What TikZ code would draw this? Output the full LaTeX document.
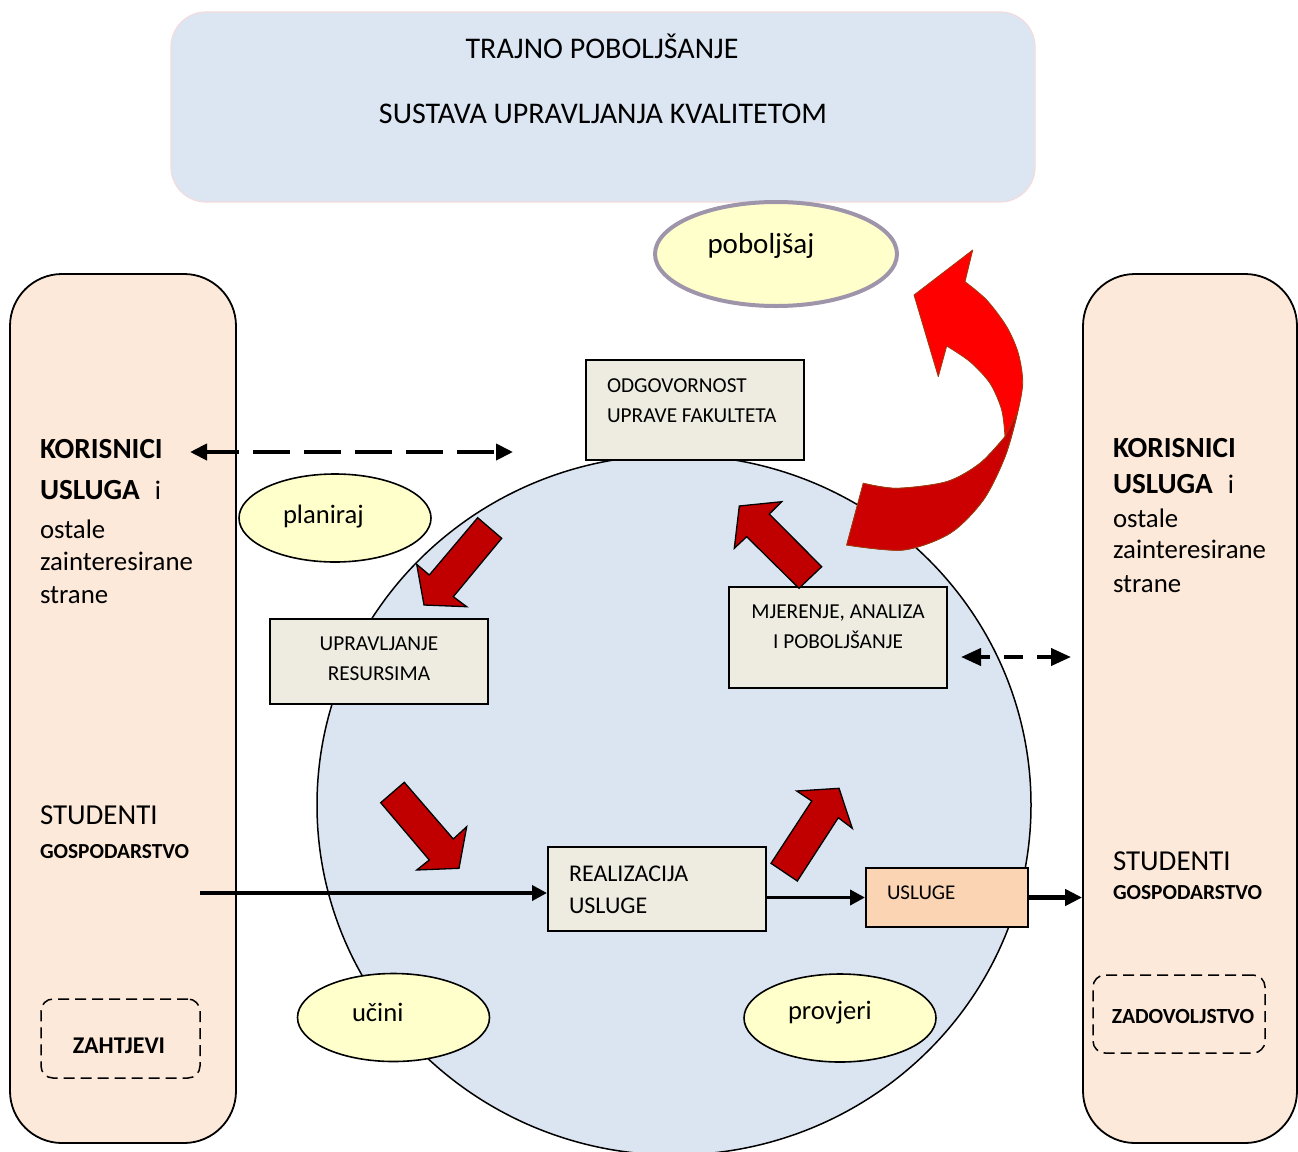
\documentclass[tikz,border=0pt]{standalone}
\usepackage{fontspec}
\setmainfont{Carlito}
\usetikzlibrary{arrows.meta,shapes.geometric}
\definecolor{topfill}{HTML}{DCE6F2}
\definecolor{topline}{HTML}{F2DCDB}
\definecolor{circfill}{HTML}{DBE5F1}
\definecolor{sidefill}{HTML}{FDE9D9}
\definecolor{boxfill}{HTML}{EEECE1}
\definecolor{uslfill}{HTML}{FBD4B4}
\definecolor{ellfill}{HTML}{FFFFCC}
\definecolor{pobline}{HTML}{9F95AA}
\definecolor{darkred}{HTML}{C00000}
\definecolor{brightred}{HTML}{FF0000}
\definecolor{midred}{HTML}{CC0000}
\definecolor{redline}{HTML}{9C3C10}
\newcommand\szTitle{\fontsize{30pt}{34pt}\selectfont}
\newcommand\szBody{\fontsize{26.8pt}{32pt}\selectfont}
\newcommand\szHead{\fontsize{29.2pt}{34pt}\selectfont}
\newcommand\szStud{\fontsize{28.9pt}{34pt}\selectfont}
\newcommand\szGosp{\fontsize{21.4pt}{25pt}\selectfont}
\newcommand\szBox{\fontsize{21.3pt}{25pt}\selectfont}
\newcommand\szReal{\fontsize{24pt}{28pt}\selectfont}
\newcommand\szEll{\fontsize{26.6pt}{32pt}\selectfont}
\begin{document}
\begin{tikzpicture}[x=1pt,y=-1pt,
  txt/.style={anchor=base west, inner sep=0pt, outer sep=0pt},
  ctxt/.style={anchor=base, inner sep=0pt, outer sep=0pt},
  sidebox/.style={draw=black, line width=1.8pt, fill=sidefill, rounded corners=52pt, inner sep=0pt},
  procbox/.style={draw=black, line width=2pt, fill=boxfill, inner sep=0pt},
  stage/.style={ellipse, draw=black, line width=1.6pt, fill=ellfill, inner sep=0pt, minimum width=192pt, minimum height=88pt},
  dashbox/.style={draw=black, line width=1.5pt, dash pattern=on 11pt off 6pt, rounded corners=12pt, inner sep=0pt},
  redarr/.style={fill=darkred, draw=black, line width=1.3pt, line join=miter},
  dasharr/.style={line width=4pt, {Triangle[length=17pt,width=16pt]}-{Triangle[length=17pt,width=16pt]}},
  solidarr/.style={line width=3.7pt, -{Triangle[length=15pt,width=15pt]}},
]
\useasboundingbox (0,0) rectangle (1298,1151);
\fill[white] (0,0) rectangle (1298,1151);

% top box
\node[draw=topline, line width=1.2pt, fill=topfill, rounded corners=35pt, minimum width=864pt, minimum height=190pt, inner sep=0pt] (topbox) at (603,107) {};
\node[ctxt] (title1) at (602,58) {\szTitle TRAJNO POBOLJŠANJE};
\node[ctxt] (title2) at (603,123) {\szTitle SUSTAVA UPRAVLJANJA KVALITETOM};

% side panels
\node[sidebox, minimum width=226pt, minimum height=869pt] (leftside) at (123,708.5) {};
\node[sidebox, minimum width=214pt, minimum height=869pt] (rightside) at (1190,708.5) {};

% big circle
\node[ellipse, draw=black, line width=1.5pt, fill=circfill, minimum width=714pt, minimum height=700pt, inner sep=0pt] (circ) at (674,805) {};

% poboljsaj
\node[ellipse, draw=pobline, line width=4pt, fill=ellfill, minimum width=242pt, minimum height=104pt, inner sep=0pt] (pob) at (776,254) {};
\node[txt] (pobt) at (707.5,253) {\fontsize{29pt}{34pt}\selectfont poboljšaj};

% left texts
\node[txt] (lk1) at (40,458) {\szHead\bfseries KORISNICI};
\node[txt] (lk2) at (40,499) {\szHead\textbf{USLUGA}\hspace{15pt}\szBody i};
\node[txt] (lk3) at (40,538) {\szBody ostale};
\node[txt] (lk4) at (40,570) {\szBody zainteresirane};
\node[txt] (lk5) at (40,603) {\szBody strane};
\node[txt] (ls1) at (40,824) {\szStud STUDENTI};
\node[txt] (ls2) at (40,858) {\szGosp\bfseries GOSPODARSTVO};

% right texts
\node[txt] (rk1) at (1113,457) {\szHead\bfseries KORISNICI};
\node[txt] (rk2) at (1113,493) {\szHead\textbf{USLUGA}\hspace{15pt}\szBody i};
\node[txt] (rk3) at (1113,527) {\szBody ostale};
\node[txt] (rk4) at (1113,558) {\szBody zainteresirane};
\node[txt] (rk5) at (1113,592) {\szBody strane};
\node[txt] (rs1) at (1113,870) {\szStud STUDENTI};
\node[txt] (rs2) at (1113,899) {\szGosp\bfseries GOSPODARSTVO};

% dashed boxes
\node[dashbox, minimum width=159pt, minimum height=79pt] (zaht) at (120.5,1038.5) {};
\node[ctxt] (zahtt) at (119,1053) {\fontsize{24pt}{28pt}\selectfont\bfseries ZAHTJEVI};
\node[dashbox, minimum width=172pt, minimum height=78pt] (zadov) at (1179,1014) {};
\node[ctxt] (zadovt) at (1183,1023) {\fontsize{21.6pt}{25pt}\selectfont\bfseries ZADOVOLJSTVO};

% process boxes
\node[procbox, minimum width=218pt, minimum height=100pt] (odg) at (695,410) {};
\node[txt] (odg1) at (607,392) {\szBox ODGOVORNOST};
\node[txt] (odg2) at (607,422) {\szBox UPRAVE FAKULTETA};

\node[procbox, minimum width=218pt, minimum height=85pt] (upr) at (379,661) {};
\node[ctxt] (upr1) at (379,650) {\szBox UPRAVLJANJE};
\node[ctxt] (upr2) at (379,680) {\szBox RESURSIMA};

\node[procbox, minimum width=218pt, minimum height=101pt] (mje) at (838,637.5) {};
\node[ctxt] (mje1) at (838,618) {\szBox MJERENJE, ANALIZA};
\node[ctxt] (mje2) at (838,648) {\szBox I POBOLJŠANJE};

\node[procbox, minimum width=218pt, minimum height=84pt] (real) at (657,889) {};
\node[txt] (real1) at (569,881) {\szReal REALIZACIJA};
\node[txt] (real2) at (569,913) {\szReal USLUGE};

\node[draw=black, line width=2pt, fill=uslfill, inner sep=0pt, minimum width=162pt, minimum height=59pt] (usl) at (947,897.5) {};
\node[txt] (uslt) at (887,899) {\fontsize{21pt}{25pt}\selectfont USLUGE};

% stage ellipses
\node[stage] (plan) at (335,518) {};
\node[txt] (plant) at (283,523) {\szEll planiraj};
\node[stage] (ucin) at (393.5,1017.5) {};
\node[txt] (ucint) at (352,1021.5) {\szEll učini};
\node[stage] (prov) at (840,1018) {};
\node[txt] (provt) at (788,1019) {\szEll provjeri};

% connectors
\coordinate (la1) at (190,452);
\coordinate (la2) at (513,452);
\draw[dasharr, dash pattern=on 37pt off 14pt, dash phase=4pt] (la1) -- (la2);
\coordinate (ra1) at (961,657);
\coordinate (ra2) at (1071,657);
\draw[dasharr, {Triangle[length=20pt,width=17pt]}-{Triangle[length=20pt,width=17pt]}, dash pattern=on 19pt off 14pt, dash phase=9pt] (ra1) -- (ra2);
\coordinate (s1) at (200,893);
\draw[solidarr] (s1) -- (s1 -| real.west);
\draw[solidarr] (real.east |- usl.west) -- (usl.west);
\draw[solidarr, line width=5pt, -{Triangle[length=17pt,width=16pt]}] (usl.east) -- (usl.east -| rightside.west);

% red block arrows
\draw[redarr] (477.7,517.7) -- (501.7,538.3) -- (453.3,596.7) -- (466.7,606.7) -- (424,605) -- (416.7,564.3) -- (429.3,575) -- cycle;
\draw[redarr] (739.3,506) -- (781.7,501.7) -- (769.3,514) -- (821.7,566.7) -- (799,588.3) -- (746.7,536.7) -- (734.3,548.3) -- cycle;
\draw[redarr] (404.3,782.3) -- (380.7,802.7) -- (429.3,860) -- (416.7,870) -- (459,868.3) -- (466.7,826.7) -- (453.3,839) -- cycle;
\draw[redarr] (771,863.3) -- (797.3,881) -- (838.3,817.7) -- (852.3,828.3) -- (839,788.3) -- (796.7,791) -- (811.7,801) -- cycle;

% big curved arrow
\path[fill=brightred, draw=redline, line width=0.8pt, line join=round]
  (846.7,545) -- (863.3,483.3)
  -- plot[smooth] coordinates {(863.3,483.3) (896.7,488.3) (946.7,481.7) (980,463.3) (1005,436.7)}
  -- plot[smooth] coordinates {(1005,436.7) (1001.7,410) (990,383.3) (970,361.7) (946.7,346)}
  -- (938.3,376.7) -- (914,295) -- (972.7,250) -- (965,281.7)
  -- plot[smooth] coordinates {(965,281.7) (986.7,300) (1006.7,326.7) (1018.3,353.3) (1022.7,383.3) (1016.7,416.7) (1005,456.7) (983.3,500) (950,533.3) (903.3,550) (846.7,545)}
  -- cycle;
\path[fill=midred, draw=redline, line width=0.8pt, line join=round]
  (846.7,545) -- (863.3,483.3)
  -- plot[smooth] coordinates {(863.3,483.3) (896.7,488.3) (946.7,481.7) (980,463.3) (1005,436.7)}
  -- (1017.5,412)
  -- plot[smooth] coordinates {(1017.5,412) (1005,456.7) (983.3,500) (950,533.3) (903.3,550) (846.7,545)}
  -- cycle;
\end{tikzpicture}
\end{document}
